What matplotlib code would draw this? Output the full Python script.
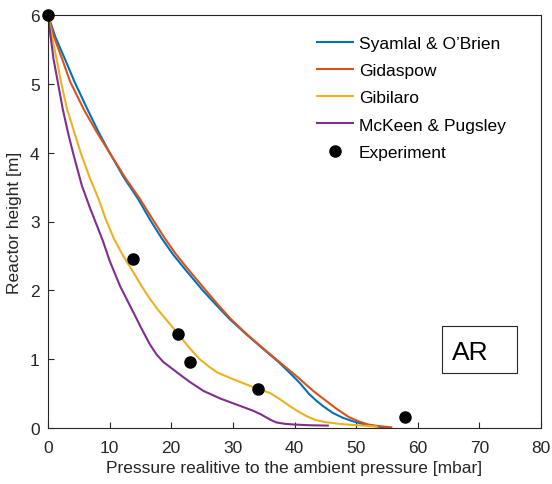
import matplotlib
matplotlib.use("Agg")
import matplotlib.pyplot as plt
from matplotlib.patches import Rectangle

plt.rcParams['font.family'] = ['Liberation Sans', 'DejaVu Sans']

# Syamlal & O'Brien
syamlal_p = [0, 1.2, 2.75, 4.3, 6.4, 8.2, 10.0, 12.3, 14.6, 16.6, 18.5, 20.3, 22.2, 25.1, 27.9, 29.5, 32.2, 34.9, 37.4, 39.7, 41.0, 42.3, 43.5, 44.6, 46.2, 47.8, 49.4, 51.0, 52.5, 54.0, 55.0]
syamlal_h = [6.0, 5.68, 5.36, 5.03, 4.63, 4.30, 4.0, 3.64, 3.33, 3.02, 2.75, 2.52, 2.31, 2.0, 1.73, 1.58, 1.36, 1.15, 0.96, 0.76, 0.64, 0.50, 0.40, 0.32, 0.22, 0.15, 0.10, 0.06, 0.035, 0.015, 0.0]

# Gidaspow
gidaspow_p = [0, 0.9, 2.3, 3.6, 5.8, 7.9, 10.0, 12.5, 14.9, 17.0, 19.0, 20.8, 22.7, 25.6, 27.6, 29.7, 32.3, 35.0, 37.8, 40.5, 42.0, 43.3, 44.9, 46.8, 48.8, 50.6, 52.0, 53.5, 55.7]
gidaspow_h = [6.0, 5.70, 5.36, 5.03, 4.63, 4.30, 4.0, 3.64, 3.33, 3.03, 2.75, 2.52, 2.31, 2.0, 1.79, 1.58, 1.36, 1.15, 0.94, 0.74, 0.62, 0.52, 0.41, 0.28, 0.16, 0.09, 0.05, 0.03, 0.01]

# Gibilaro
gibilaro_p = [0, 0.6, 1.4, 2.1, 3.1, 5.3, 6.8, 8.2, 9.3, 10.7, 12.2, 13.8, 15.2, 16.5, 18.0, 19.5, 21.0, 22.8, 24.6, 26.0, 27.4, 28.7, 30.0, 32.0, 34.0, 36.0, 37.6, 39.2, 40.8, 42.0, 43.3, 45.0, 46.8, 48.5, 51.0, 53.3]
gibilaro_h = [6.0, 5.70, 5.36, 5.03, 4.63, 4.0, 3.63, 3.33, 3.05, 2.75, 2.50, 2.27, 2.06, 1.88, 1.70, 1.54, 1.38, 1.18, 1.0, 0.90, 0.81, 0.76, 0.71, 0.64, 0.57, 0.51, 0.42, 0.32, 0.23, 0.17, 0.12, 0.085, 0.065, 0.05, 0.035, 0.02]

# McKeen & Pugsley
mckeen_p = [0, 0.4, 0.9, 1.6, 2.4, 3.3, 4.2, 5.5, 6.8, 7.9, 8.9, 10.0, 11.7, 13.8, 15.2, 16.5, 17.6, 18.7, 20.9, 23.0, 25.2, 27.9, 30.0, 31.8, 33.3, 34.5, 35.5, 36.3, 37.1, 38.5, 40.0, 42.5, 45.4]
mckeen_h = [6.0, 5.70, 5.36, 5.02, 4.63, 4.27, 3.95, 3.52, 3.20, 2.95, 2.72, 2.43, 2.06, 1.69, 1.44, 1.22, 1.07, 0.96, 0.81, 0.67, 0.54, 0.43, 0.36, 0.30, 0.25, 0.20, 0.15, 0.11, 0.08, 0.06, 0.05, 0.04, 0.035]

# Experiment
exp_p = [0, 13.8, 21.1, 23.0, 34.0, 58.0]
exp_h = [6.0, 2.46, 1.37, 0.96, 0.56, 0.16]

labels = ["Syamlal & O\u2019Brien", "Gidaspow", "Gibilaro", "McKeen & Pugsley", "Experiment"]
colors = ["#0072BD", "#D95319", "#EDB120", "#7E2F8E"]

FS = 12.5
fig = plt.figure(figsize=(5.52, 4.85), dpi=100)
ax = fig.add_axes([48/552, 1-429/485, (541-48)/552, (429-16)/485])

series = [(syamlal_p, syamlal_h), (gidaspow_p, gidaspow_h), (gibilaro_p, gibilaro_h), (mckeen_p, mckeen_h)]
for (p, h), c, lab in zip(series, colors, labels[:4]):
    ax.plot(p, h, color=c, lw=1.5, label=lab, solid_joinstyle='round')
ax.plot(exp_p, exp_h, 'o', color='black', ms=8, label=labels[4], clip_on=False, zorder=5)

ax.set_xlim(0, 80)
ax.set_ylim(0, 6)
ax.set_xticks(range(0, 81, 10))
ax.set_yticks(range(0, 7))
dark = "#262626"
for s in ax.spines.values():
    s.set_color(dark)
    s.set_linewidth(0.8)
ax.tick_params(direction='in', length=4, width=0.8, colors=dark, labelsize=FS, labelcolor=dark, pad=6)
ax.tick_params(axis='x', pad=9)
ax.set_xlabel("Pressure realitive to the ambient pressure [mbar]", fontsize=FS, color=dark, labelpad=3)
ax.set_ylabel("Reactor height [m]", fontsize=FS, color=dark, labelpad=6)

leg = ax.legend(loc='upper left', bbox_to_anchor=(317/552, 1-37/485), bbox_transform=fig.transFigure,
                frameon=False, fontsize=FS, handlelength=2.1, handletextpad=0.3,
                labelspacing=0.69, numpoints=1, borderaxespad=0, borderpad=0)
for t in leg.get_texts():
    t.set_color('black')

ax.add_patch(Rectangle(((442-48)/493, (429-374)/413), 75/493, 47/413, transform=ax.transAxes,
                       fill=True, facecolor='white', edgecolor=dark, lw=0.8, zorder=6))
ax.text((452-48)/493, (429-360)/413, "AR", transform=ax.transAxes, fontsize=19,
        va='baseline', ha='left', color='black', zorder=7)

fig.savefig("out.png", dpi=100)
